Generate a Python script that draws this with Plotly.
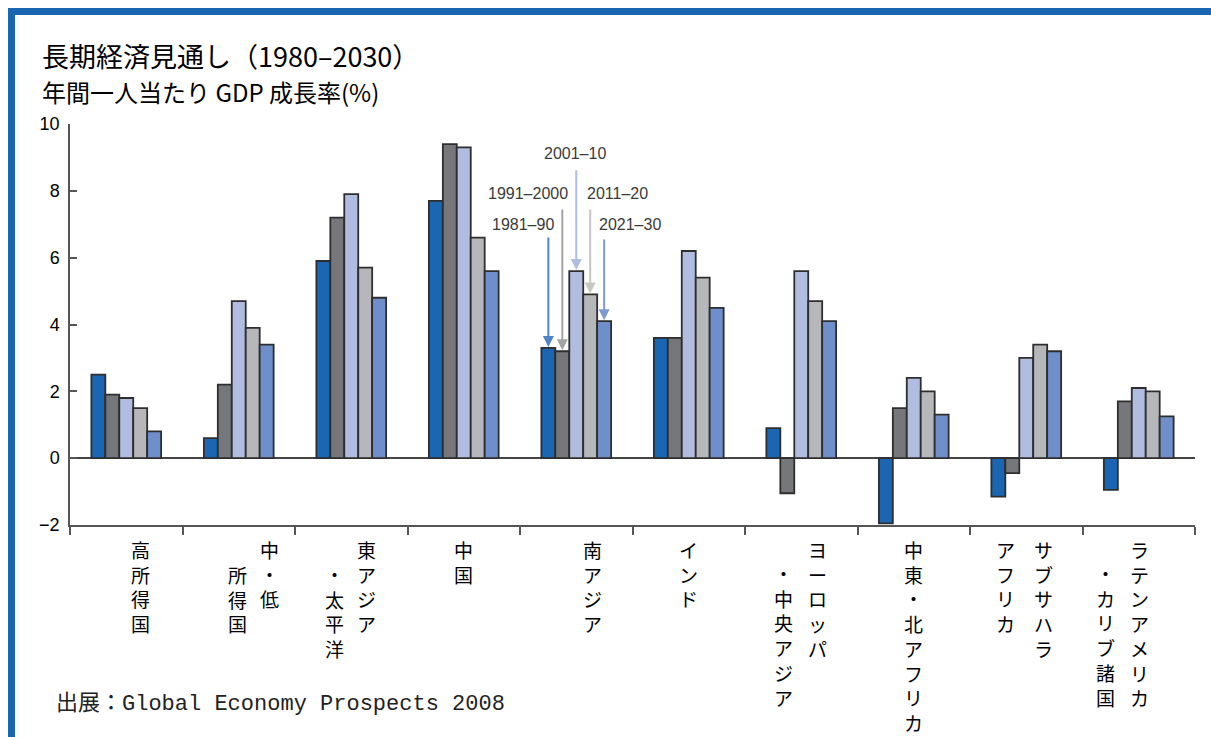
import plotly.graph_objects as go

# ---------------- data ----------------
regions = ["高所得国", "中・低所得国", "東アジア・太平洋", "中国", "南アジア",
           "インド", "ヨーロッパ・中央アジア", "中東・北アフリカ",
           "サブサハラアフリカ", "ラテンアメリカ・カリブ諸国"]
periods = ["1981–90", "1991–2000", "2001–10", "2011–20", "2021–30"]

g_1981_90 = [2.5, 0.6, 5.9, 7.7, 3.3, 3.6, 0.9, -1.95, -1.15, -0.95]
g_1991_2000 = [1.9, 2.2, 7.2, 9.4, 3.2, 3.6, -1.05, 1.5, -0.45, 1.7]
g_2001_10 = [1.8, 4.7, 7.9, 9.3, 5.6, 6.2, 5.6, 2.4, 3.0, 2.1]
g_2011_20 = [1.5, 3.9, 5.7, 6.6, 4.9, 5.4, 4.7, 2.0, 3.4, 2.0]
g_2021_30 = [0.8, 3.4, 4.8, 5.6, 4.1, 4.5, 4.1, 1.3, 3.2, 1.25]
series = [g_1981_90, g_1991_2000, g_2001_10, g_2011_20, g_2021_30]

y_ticks = [-2, 0, 2, 4, 6, 8, 10]

# ---------------- style ----------------
bar_colors = ["#1a66b2", "#76777b", "#b0bde0", "#b6b7ba", "#6f8fca"]
arrow_colors = ["#4f84c8", "#a3a3a3", "#aebde3", "#c6c6c6", "#7d9bd2"]
BARGAP = 0.38
CJK = "Noto Sans CJK JP"

fig = go.Figure()
for name, vals, col in zip(periods, series, bar_colors):
    fig.add_trace(go.Bar(
        x=list(range(len(regions))), y=vals, name=name,
        marker=dict(color=col, line=dict(color="#2e2e2e", width=1.8)),
        showlegend=False, hoverinfo="y"))

annotations = []

# ---- arrows & period labels pointing at South Asia bars ----
target = regions.index("南アジア")
bw = (1 - BARGAP) / len(series)
tail_y = [6.65, 7.49, 8.66, 7.49, 6.59]
label_pos = [(3.527, 7.0), (3.571, 7.92), (3.993, 9.13), (4.367, 7.92), (4.482, 7.0)]
for i, (name, vals) in enumerate(zip(periods, series)):
    bx = target + (i - (len(series) - 1) / 2) * bw
    annotations.append(dict(
        x=bx, y=vals[target], xref="x", yref="y",
        ax=bx, ay=tail_y[i], axref="x", ayref="y",
        text="", showarrow=True, arrowhead=2, arrowsize=1.1, arrowwidth=2,
        arrowcolor=arrow_colors[i], standoff=1))
    lx, ly = label_pos[i]
    annotations.append(dict(
        x=lx, y=ly, xref="x", yref="y", text=name, showarrow=False,
        font=dict(family="Arial, Liberation Sans", size=16, color="#3a3a3a")))

# ---- vertical category labels (columns right-to-left) ----
# (group index, column text, x offset px, first row)
label_columns = [
    (0, "高所得国", 14, 0),
    (1, "中・低", 31, 0),
    (1, "所得国", -1, 1),
    (2, "東アジア", 15, 0),
    (2, "・太平洋", -17, 1),
    (3, "中国", 0, 0),
    (4, "南アジア", 16, 0),
    (5, "インド", 0, 0),
    (6, "ヨーロッパ", 16, 0),
    (6, "・中央アジア", -18, 1),
    (7, "中東・北アフリカ", 0, 0),
    (8, "サブサハラ", 17, 0),
    (8, "アフリカ", -21, 0),
    (9, "ラテンアメリカ", 1, 0),
    (9, "・カリブ諸国", -33, 1),
]
LBL_SIZE = 19
PITCH = 1.3 * LBL_SIZE
ROW0 = 24.5    # px below the axis line for the centre of the first row
for gi, text, dx, start in label_columns:
    n = len(text)
    centre = ROW0 + (start + (n - 1) / 2) * PITCH
    annotations.append(dict(
        x=gi, y=0, xref="x", yref="paper", text="<br>".join(text),
        showarrow=False, xanchor="center", yanchor="middle", align="center",
        xshift=dx, yshift=-centre, borderpad=0,
        font=dict(family=CJK, size=LBL_SIZE, color="#000000")))

# ---- title, subtitle, source ----
annotations.append(dict(
    x=0, y=1, xref="paper", yref="paper", xanchor="left", yanchor="middle",
    xshift=-30, yshift=69, showarrow=False,
    text="長期経済見通し（1980–2030）",
    font=dict(family=CJK, size=27, color="#000000")))
annotations.append(dict(
    x=0, y=1, xref="paper", yref="paper", xanchor="left", yanchor="middle",
    xshift=-30, yshift=33, showarrow=False,
    text="年間一人当たり GDP 成長率(%)",
    font=dict(family=CJK, size=24, color="#000000")))
annotations.append(dict(
    x=0, y=0, xref="paper", yref="paper", xanchor="left", yanchor="middle",
    xshift=-16, yshift=-179, showarrow=False,
    text="出展：Global Economy Prospects 2008",
    font=dict(family="Liberation Mono, " + CJK, size=22, color="#222222")))

# ---- blue frame (top and left edges) ----
W, H = 1211, 737
L, R, T, B = 70, 16, 124, 212
pw, ph = W - L - R, H - T - B
def px(xp): return (xp - L) / pw
def py(yp): return (H - B - yp) / ph
frame = "#1a66b2"
shapes = [
    dict(type="rect", xref="paper", yref="paper", x0=px(8), x1=px(W + 5),
         y0=py(15), y1=py(8), fillcolor=frame, line=dict(width=0), layer="above"),
    dict(type="rect", xref="paper", yref="paper", x0=px(8), x1=px(15),
         y0=py(H + 5), y1=py(8), fillcolor=frame, line=dict(width=0), layer="above"),
]

fig.update_layout(
    width=W, height=H, margin=dict(l=L, r=R, t=T, b=B, pad=0),
    paper_bgcolor="white", plot_bgcolor="white",
    barmode="group", bargap=BARGAP, bargroupgap=0,
    annotations=annotations, shapes=shapes,
    xaxis=dict(type="linear", range=[-0.5, len(regions) - 0.5],
               tickvals=[i - 0.5 for i in range(len(regions) + 1)],
               showticklabels=False, ticks="outside", ticklen=8,
               tickwidth=1.5, tickcolor="#555555", showline=True,
               linecolor="#555555", linewidth=1.5, showgrid=False,
               zeroline=False),
    yaxis=dict(range=[-2, 10], tickvals=y_ticks, ticks="inside", ticklen=7,
               tickwidth=1.5, tickcolor="#555555", showline=True,
               linecolor="#555555", linewidth=1.5, showgrid=False,
               zeroline=True, zerolinecolor="#444444", zerolinewidth=1.5,
               ticklabelstandoff=5,
               tickfont=dict(family="Arial, Liberation Sans", size=18,
                             color="#000000")),
)

fig.write_html("out.html")
